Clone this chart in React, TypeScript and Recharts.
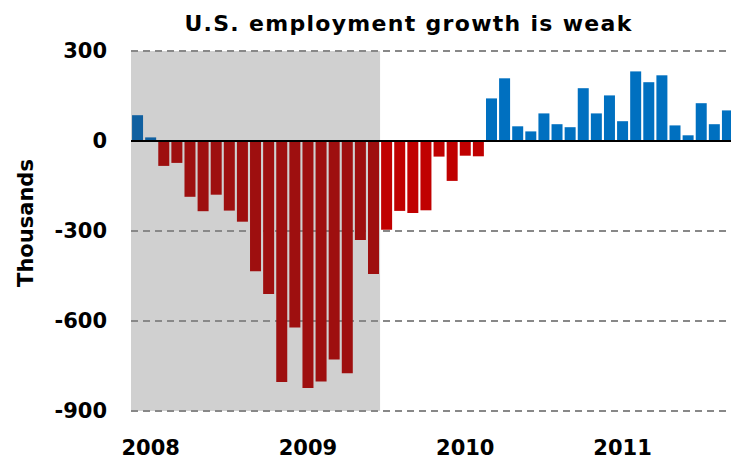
import { Bar, BarChart, CartesianGrid, Cell, ReferenceArea, ReferenceLine, XAxis, YAxis } from "recharts";

// monthly change in nonfarm payrolls, Dec 2007 .. Sep 2011 (thousands)
const months = [
  "2007-12",
  "2008-01", "2008-02", "2008-03", "2008-04", "2008-05", "2008-06",
  "2008-07", "2008-08", "2008-09", "2008-10", "2008-11", "2008-12",
  "2009-01", "2009-02", "2009-03", "2009-04", "2009-05", "2009-06",
  "2009-07", "2009-08", "2009-09", "2009-10", "2009-11", "2009-12",
  "2010-01", "2010-02", "2010-03", "2010-04", "2010-05", "2010-06",
  "2010-07", "2010-08", "2010-09", "2010-10", "2010-11", "2010-12",
  "2011-01", "2011-02", "2011-03", "2011-04", "2011-05", "2011-06",
  "2011-07", "2011-08", "2011-09",
];
const jobs = [
  86,
  12, -83, -73, -186, -234, -179,
  -232, -269, -434, -510, -803, -622,
  -823, -802, -728, -774, -330, -443,
  -296, -233, -240, -231, -52, -133,
  -49, -51, 142, 209, 49, 32,
  92, 56, 46, 176, 92, 152,
  66, 232, 196, 219, 52, 19,
  126, 56, 102,
];
const recessionStart = "2007-12";
const recessionEnd = "2009-06";
const yearTicks = ["2008-01", "2009-01", "2010-01", "2011-01"];
const yTicks = [300, 0, -300, -600, -900];

const FONT = "'DejaVu Sans', Verdana, sans-serif";

const data = months.map((m, i) => ({ month: m, jobs: jobs[i] }));

const barColor = (m: string, v: number) => {
  const inRecession = m >= recessionStart && m <= recessionEnd;
  if (v >= 0) return inRecession ? "#1060a0" : "#0070c0";
  return inRecession ? "#9e0f0f" : "#c00000";
};

const YLabel = () => (
  <text
    x={33}
    y={223}
    transform="rotate(-90 33 223)"
    textAnchor="middle"
    fontFamily={FONT}
    fontWeight="bold"
    fontSize={21}
    fill="#000"
  >
    Thousands
  </text>
);

const App = () => {
  return (
    <div style={{ position: "fixed", left: 0, top: 0, width: 731, height: 457, overflow: "hidden", background: "#fff" }}>
      <div
        style={{
          position: "absolute",
          left: 0,
          top: 13,
          width: 817,
          textAlign: "center",
          fontFamily: FONT,
          fontWeight: "bold",
          fontSize: 22,
          letterSpacing: 1.3,
          lineHeight: "22px",
          color: "#000",
        }}
      >
        U.S. employment growth is weak
      </div>
      <BarChart
        width={740}
        height={457}
        data={data}
        margin={{ top: 51, right: 6, bottom: 0, left: 0 }}
        barCategoryGap="8%"
      >
        <ReferenceArea
          x1={recessionStart}
          x2={recessionEnd}
          y1={300}
          y2={-900}
          fill="#d0d0d0"
          fillOpacity={1}
          stroke="none"
          zIndex={-200}
        />
        <CartesianGrid vertical={false} stroke="#888" strokeWidth={2} strokeDasharray="7 5" />
        <XAxis
          dataKey="month"
          ticks={yearTicks}
          interval={0}
          tickFormatter={(m: string) => m.slice(0, 4)}
          axisLine={false}
          tickLine={false}
          height={46}
          tickMargin={23}
          tick={{ fontFamily: FONT, fontWeight: "bold", fontSize: 21, fill: "#000" }}
        />
        <YAxis
          domain={[-900, 300]}
          ticks={yTicks}
          interval={0}
          width={131}
          axisLine={false}
          tickLine={false}
          tickMargin={18}
          tick={{ fontFamily: FONT, fontWeight: "bold", fontSize: 21, fill: "#000" }}
          label={<YLabel />}
        />
        <Bar dataKey="jobs" isAnimationActive={false}>
          {data.map((d) => (
            <Cell key={d.month} fill={barColor(d.month, d.jobs)} />
          ))}
        </Bar>
        <ReferenceLine y={0} stroke="#000" strokeWidth={2} />
      </BarChart>
    </div>
  );
};

export default App;
